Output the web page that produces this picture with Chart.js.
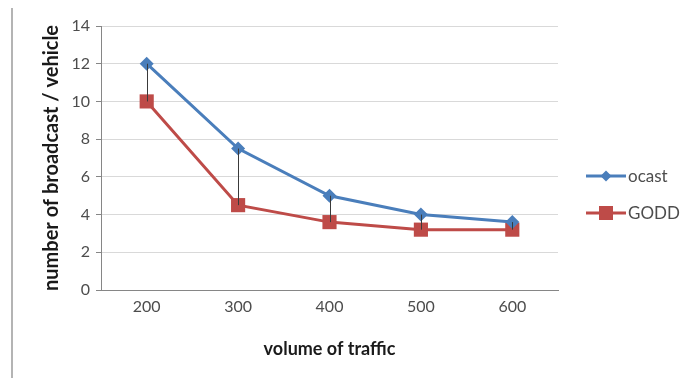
<!DOCTYPE html>
<html>
<head>
<meta charset="utf-8">
<script src="https://cdn.jsdelivr.net/npm/chart.js@4/dist/chart.umd.min.js"></script>
<style>
  html, body { margin: 0; padding: 0; background: #fff; }
  #wrap { position: relative; width: 680px; height: 378px; }
  #rule { position: absolute; left: 11px; top: 8px; width: 2px; height: 370px; background: #b4b4b4; }
  canvas { position: absolute; left: 0; top: 0; }
</style>
</head>
<body>
<div id="wrap">
  <div id="rule"></div>
  <canvas id="c" width="680" height="378"></canvas>
</div>
<script>
// Traffic volume categories and broadcast counts per vehicle
const categories = ['200', '300', '400', '500', '600'];
const ocast = [12, 7.5, 5, 4, 3.6];
const godd = [10, 4.5, 3.6, 3.2, 3.2];
const seriesNames = ['ocast', 'GODD'];
const yTicks = { min: 0, max: 14, step: 2 };

const BLUE = '#4a7ebb';
const RED = '#be4b48';
const FONT = 'Lato, "Open Sans", sans-serif';
const TEXT = '#4d4d4d';

// Thin vertical lines joining the two series at each category
const highLowLines = {
  id: 'highLowLines',
  afterDatasetsDraw(chart) {
    const a = chart.getDatasetMeta(0).data;
    const b = chart.getDatasetMeta(1).data;
    const ctx = chart.ctx;
    ctx.save();
    ctx.strokeStyle = '#3a3a3a';
    ctx.lineWidth = 1;
    for (let i = 0; i < a.length; i++) {
      const x = Math.round(a[i].x) + 0.5;
      ctx.beginPath();
      ctx.moveTo(x, a[i].y);
      ctx.lineTo(x, b[i].y);
      ctx.stroke();
    }
    ctx.restore();
  }
};

// Legend with line-and-marker samples, to the right of the plot
const sideLegend = {
  id: 'sideLegend',
  afterDraw(chart) {
    const ctx = chart.ctx;
    const area = chart.chartArea;
    const x0 = area.right + 28;
    const lineLen = 40;
    const gap = 37;
    const yStart = chart.height / 2 - 13;
    ctx.save();
    chart.data.datasets.forEach((ds, i) => {
      const y = yStart + i * gap;
      ctx.strokeStyle = ds.borderColor;
      ctx.lineWidth = 3;
      ctx.beginPath();
      ctx.moveTo(x0, y);
      ctx.lineTo(x0 + lineLen, y);
      ctx.stroke();
      ctx.fillStyle = ds.backgroundColor;
      const cx = x0 + lineLen / 2;
      if (ds.pointStyle === 'rectRot') {
        const r = 5.5;
        ctx.beginPath();
        ctx.moveTo(cx, y - r);
        ctx.lineTo(cx + r, y);
        ctx.lineTo(cx, y + r);
        ctx.lineTo(cx - r, y);
        ctx.closePath();
        ctx.fill();
      } else {
        ctx.fillRect(cx - 7, y - 7, 14, 14);
      }
      ctx.fillStyle = TEXT;
      ctx.font = '17px ' + FONT;
      ctx.textBaseline = 'middle';
      ctx.textAlign = 'left';
      ctx.fillText(ds.label, x0 + lineLen + 2, y + 1);
    });
    ctx.restore();
  }
};

new Chart(document.getElementById('c'), {
  type: 'line',
  data: {
    labels: categories,
    datasets: [
      {
        label: seriesNames[0],
        data: ocast,
        borderColor: BLUE,
        backgroundColor: BLUE,
        borderWidth: 3,
        pointStyle: 'rectRot',
        pointRadius: 7,
        pointBorderWidth: 0,
        tension: 0
      },
      {
        label: seriesNames[1],
        data: godd,
        borderColor: RED,
        backgroundColor: RED,
        borderWidth: 3,
        pointStyle: 'rect',
        pointRadius: 10,
        pointBorderWidth: 0,
        tension: 0
      }
    ]
  },
  options: {
    responsive: false,
    animation: false,
    devicePixelRatio: 1,
    layout: { padding: { left: 30, right: 122, top: 26, bottom: 18 } },
    plugins: {
      legend: { display: false },
      tooltip: { enabled: false }
    },
    scales: {
      x: {
        offset: true,
        grid: { display: false, drawTicks: false },
        border: { display: true, color: '#868686', width: 1 },
        ticks: { color: TEXT, font: { family: FONT, size: 16 }, padding: 7 },
        title: {
          display: true,
          text: 'volume of traffic',
          color: '#1a1a1a',
          font: { family: FONT, size: 18, weight: 'bold' },
          padding: { top: 10, bottom: 0 }
        },
        afterFit(scale) { scale.height = 70; }
      },
      y: {
        min: yTicks.min,
        max: yTicks.max,
        ticks: {
          stepSize: yTicks.step,
          color: TEXT,
          font: { family: FONT, size: 16 },
          padding: 6
        },
        grid: { color: '#d9d9d9', lineWidth: 1, tickLength: 5, tickColor: '#868686' },
        border: { display: true, color: '#868686', width: 1 },
        title: {
          display: true,
          text: 'number of broadcast / vehicle',
          color: '#1a1a1a',
          font: { family: FONT, size: 20, weight: 'bold' },
          padding: { top: 10, bottom: 4 }
        },
        afterFit(scale) { scale.width = 71; }
      }
    }
  },
  plugins: [highLowLines, sideLegend]
});
</script>
</body>
</html>
